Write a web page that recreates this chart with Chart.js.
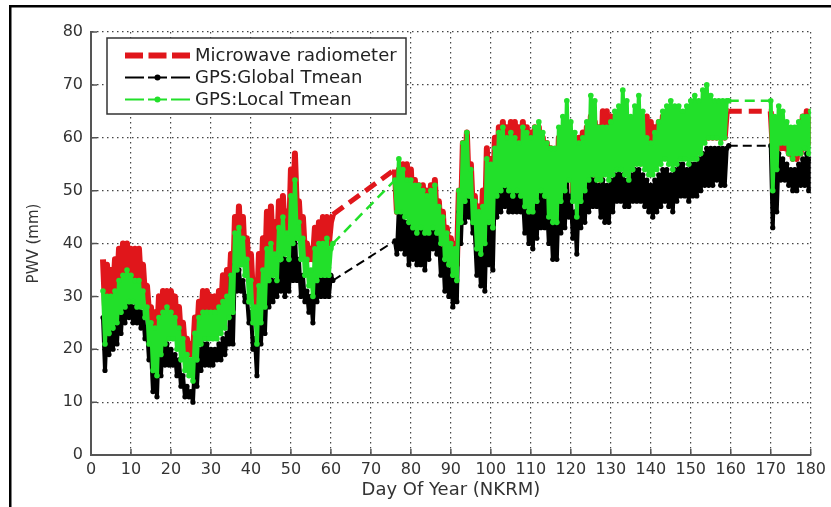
<!DOCTYPE html>
<html>
<head>
<meta charset="utf-8">
<script src="https://cdn.jsdelivr.net/npm/chart.js@4.4.1/dist/chart.umd.min.js"></script>
<style>
  html, body { margin: 0; padding: 0; background: #fff; }
</style>
</head>
<body>
<canvas id="pwv" width="831" height="507"></canvas>
<script>
// half-day samples: value at day d (daily high) then d+0.5 (daily low)
const step = 0.5;
const segStart = [3, 76, 170];

const mwr1 = [37,28, 36,30, 35,30, 37,31, 39,32, 40,33, 40,34, 39,33, 39,32, 39,32, 36,30, 32,27, 28,23, 27,22, 30,24, 31,25, 31,26, 31,25, 30,24, 28,22,
  25,20, 22,19, 21,19, 26,22, 29,25, 31,26, 31,27, 30,26, 30,26, 31,27, 34,29, 35,30, 38,31, 45,37, 47,38, 45,36, 41,33, 38,30, 33,27, 38,30,
  41,33, 46,37, 47,38, 44,37, 48,40, 49,41, 46,40, 54,43, 57,46, 48,41, 45,38, 40,37, 39,37, 43,38, 44,39, 45,40, 45,40, 44,45.5];
const mwr2 = [54,46, 54,47, 55,47, 55,46, 54,45, 52,44, 51,44, 51,43, 50,44, 51,45, 52,44, 48,41, 46,38, 43,37, 41,36, 40,36, 50,44, 59,48, 61,50, 55,46,
  49,40, 47,39, 50,42, 58,46, 56,46, 60,50, 62,52, 63,53, 62,52, 63,52, 63,53, 62,51, 63,50, 62,49, 61,48, 62,50, 62,51, 60,50, 59,47, 58,46,
  57,46, 60,49, 62,51, 63,53, 61,50, 59,48, 60,50, 61,51, 62,52, 64,53, 63,53, 62,52, 65,54, 65,54, 64,55, 64,55, 63,55, 64,55, 63,54, 62,55,
  62,56, 63,56, 62,55, 64,55, 63,55, 62,56, 63,56, 64,57, 63,56, 63,56, 63,57, 64,57, 64,57, 64,57, 65,58, 65,58, 65,59, 66,60, 66,60, 65,60,
  65,60, 65,60, 65,60, 65,65];
const mwr3 = [65,58, 62,57, 61,58, 60,58, 60,57, 59,56, 60,56, 62,57, 64,58, 65,59, 64];

const globalT1 = [26,16, 25,19, 26,20, 27,21, 28,23, 29,25, 30,26, 29,25, 28,25, 29,24, 27,22, 24,18, 20,12, 19,11, 22,15, 23,17, 21,17, 20,17, 19,15, 18,13,
  15,11, 13,11, 12,10, 18,13, 20,16, 21,17, 21,17, 20,17, 20,18, 21,18, 22,19, 23,21, 34,21, 36,31, 35,31, 33,29, 30,25, 27,20, 22,15, 27,21,
  29,23, 33,28, 34,29, 33,30, 36,31, 38,30, 37,31, 40,33, 42,33, 37,30, 34,29, 31,27, 30,25, 34,29, 34,30, 34,30, 34,30, 34,33];
const globalT2 = [40.5,38, 47,39, 46,38, 44,36, 45,37, 44,36, 45,36, 44,35, 43,37, 45,39, 44,38, 41,34, 39,31, 37,30, 35,28, 34,29, 46,40, 50,44, 50,45, 48,42,
  42,34, 39,32, 41,31, 45,36, 44,35, 51,45, 52,46, 53,47, 52,46, 51,46, 52,46, 51,46, 49,42, 48,40, 47,39, 50,41, 51,43, 50,43, 48,40, 46,37,
  45,37, 49,42, 50,43, 52,45, 49,41, 46,38, 49,43, 50,44, 52,46, 53,47, 52,47, 51,45, 52,44, 51,44, 52,46, 53,48, 54,48, 53,47, 52,47, 53,48,
  54,48, 54,48, 53,47, 52,46, 51,45, 52,46, 53,47, 54,48, 54,47, 53,46, 54,48, 55,49, 55,49, 54,48, 55,49, 55,49, 56,50, 57,51, 58,51, 58,51,
  58,52, 58,51, 58,51, 58,58.5];
const globalT3 = [58.5,43, 55,46, 57,52, 56,52, 55,51, 54,50, 54,50, 55,51, 56,51, 57,50, 56];

const localT1 = [31,21, 30,23, 30,24, 31,25, 33,27, 34,28, 35,29, 34,29, 33,28, 33,28, 31,26, 28,21, 25,16, 24,15, 26,19, 27,21, 28,22, 27,22, 26,20, 24,18,
  22,16, 19,15, 18,14, 23,18, 26,21, 27,22, 27,22, 27,22, 27,22, 28,23, 29,24, 30,26, 34,27, 42,35, 43,36, 41,34, 37,29, 33,25, 28,21, 32,25,
  35,28, 39,33, 40,34, 38,33, 43,37, 45,38, 42,37, 49,40, 52,41, 44,37, 41,34, 37,32, 35,30, 39,33, 40,34, 40,34, 41,34, 39,40];
const localT2 = [52,46, 56,46, 54,45, 52,44, 52,43, 51,42, 51,43, 50,42, 49,42, 50,43, 51,42, 47,40, 45,37, 42,36, 40,34, 39,33, 50,44, 59,48, 61,49, 54,44,
  48,39, 46,38, 47,40, 56,44, 55,43, 58,49, 61,50, 62,51, 60,50, 61,49, 60,50, 59,49, 62,47, 61,46, 60,46, 62,48, 63,50, 61,49, 59,45, 58,44,
  58,44, 62,48, 64,50, 67,52, 63,48, 61,45, 59,48, 60,50, 63,52, 68,53, 67,52, 62,52, 62,53, 62,52, 63,53, 65,54, 66,54, 69,53, 67,52, 64,54,
  66,55, 68,55, 65,54, 60,53, 59,53, 61,54, 63,55, 65,56, 66,55, 67,54, 66,55, 66,56, 65,56, 66,55, 67,56, 68,56, 67,57, 69,59, 70,60, 68,60,
  67,60, 67,59, 67,60, 67,67];
const localT3 = [67,50, 64,54, 66,59, 65,59, 63,57, 62,56, 62,57, 63,57, 64,58, 64,57, 65];

const xTicks = { min: 0, max: 180, step: 10 };
const yTicks = { min: 0, max: 80, step: 10 };

function toPoints(segs) {
  const pts = [];
  segs.forEach((seg, s) => seg.forEach((v, i) => pts.push({ x: segStart[s] + i * step, y: v })));
  return pts;
}

// thin dashed line only where the record has a gap
function gapStyle(dash, width) {
  const isGap = ctx => ctx.p1.parsed.x - ctx.p0.parsed.x > 1;
  return {
    borderDash: ctx => (isGap(ctx) ? dash : undefined),
    borderWidth: ctx => (isGap(ctx) ? width : undefined)
  };
}

const FONT = 'DejaVu Sans';

const decor = {
  id: 'decor',
  beforeDraw(chart) {
    const c = chart.ctx;
    c.save();
    c.fillStyle = '#fff';
    c.fillRect(0, 0, chart.width, chart.height);
    c.fillStyle = '#000';
    c.fillRect(9, 5, chart.width - 9, 2.5);
    c.fillRect(9, 5, 2.5, chart.height - 5);
    c.restore();
  },
  afterDraw(chart) {
    const c = chart.ctx, xs = chart.scales.x, ys = chart.scales.y, a = chart.chartArea;
    c.save();
    // inward tick marks
    c.strokeStyle = '#555';
    c.lineWidth = 1.5;
    c.beginPath();
    xs.ticks.forEach(t => { const p = xs.getPixelForValue(t.value); c.moveTo(p, a.bottom); c.lineTo(p, a.bottom - 6); });
    ys.ticks.forEach(t => { const p = ys.getPixelForValue(t.value); c.moveTo(a.left, p); c.lineTo(a.left + 6, p); });
    c.stroke();

    // legend box
    const lx = a.left + 16, ly = a.top + 6, lw = 299, lh = 76;
    c.fillStyle = '#fff';
    c.fillRect(lx, ly, lw, lh);
    c.strokeStyle = '#333';
    c.lineWidth = 1.5;
    c.strokeRect(lx, ly, lw, lh);
    c.font = '18px "' + FONT + '"';
    c.textBaseline = 'middle';
    chart.data.datasets.forEach((ds, i) => {
      const y = ly + 17.5 + i * 22;
      const x0 = lx + 18, x1 = lx + 83;
      c.strokeStyle = ds.borderColor;
      c.lineWidth = i === 0 ? 6 : 2;
      c.setLineDash(i === 0 ? [18, 5.5] : [19, 4]);
      c.beginPath();
      c.moveTo(x0, y);
      c.lineTo(x1, y);
      c.stroke();
      c.setLineDash([]);
      if (ds.pointRadius > 0) {
        c.fillStyle = ds.borderColor;
        c.beginPath();
        c.arc((x0 + x1) / 2, y, 3, 0, Math.PI * 2);
        c.fill();
      }
      c.fillStyle = '#222';
      c.fillText(ds.label, lx + 88, y + 1);
    });
    c.restore();
  }
};

new Chart(document.getElementById('pwv'), {
  type: 'line',
  data: {
    datasets: [{
      label: 'Microwave radiometer',
      data: toPoints([mwr1, mwr2, mwr3]),
      borderColor: '#e0161b',
      backgroundColor: '#e0161b',
      borderWidth: 6,
      borderJoinStyle: 'round',
      pointRadius: 0,
      order: 2,
      segment: gapStyle([13, 7], 5)
    }, {
      label: 'GPS:Global Tmean',
      data: toPoints([globalT1, globalT2, globalT3]),
      borderColor: '#000000',
      backgroundColor: '#000000',
      borderWidth: 4,
      borderJoinStyle: 'round',
      pointRadius: 2.6,
      pointBorderWidth: 0,
      order: 1,
      segment: gapStyle([9, 5], 2)
    }, {
      label: 'GPS:Local Tmean',
      data: toPoints([localT1, localT2, localT3]),
      borderColor: '#22e02a',
      backgroundColor: '#22e02a',
      borderWidth: 4,
      borderJoinStyle: 'round',
      pointRadius: 2.8,
      pointBorderWidth: 0,
      order: 0,
      segment: gapStyle([10, 6], 2.5)
    }]
  },
  options: {
    responsive: false,
    animation: false,
    layout: { padding: { left: 0, right: 15, top: 32, bottom: 0 } },
    plugins: { legend: { display: false }, tooltip: { enabled: false } },
    scales: {
      x: {
        type: 'linear',
        min: xTicks.min, max: xTicks.max,
        ticks: { stepSize: xTicks.step, autoSkip: false, maxRotation: 0, color: '#333', padding: 5,
          font: { family: FONT, size: 16 } },
        grid: { color: '#444', lineWidth: 1.2, drawTicks: false },
        border: { display: true, color: '#555', width: 2, dash: [1.5, 3.5] },
        title: { display: true, text: 'Day Of Year (NKRM)', color: '#333',
          font: { family: FONT, size: 18 }, padding: { top: 0, bottom: 6 } },
        afterFit: s => { s.height = 52; }
      },
      y: {
        min: yTicks.min, max: yTicks.max,
        ticks: { stepSize: yTicks.step, color: '#333', padding: 8,
          font: { family: FONT, size: 16 } },
        grid: { color: '#444', lineWidth: 1.2, drawTicks: false },
        border: { display: true, color: '#555', width: 2, dash: [1.5, 3.5] },
        title: { display: true, text: 'PWV (mm)', color: '#333',
          font: { family: FONT, size: 15 }, padding: { top: 25, bottom: 0 } },
        afterFit: s => { s.width = 91; }
      }
    }
  },
  plugins: [decor]
});
</script>
</body>
</html>
